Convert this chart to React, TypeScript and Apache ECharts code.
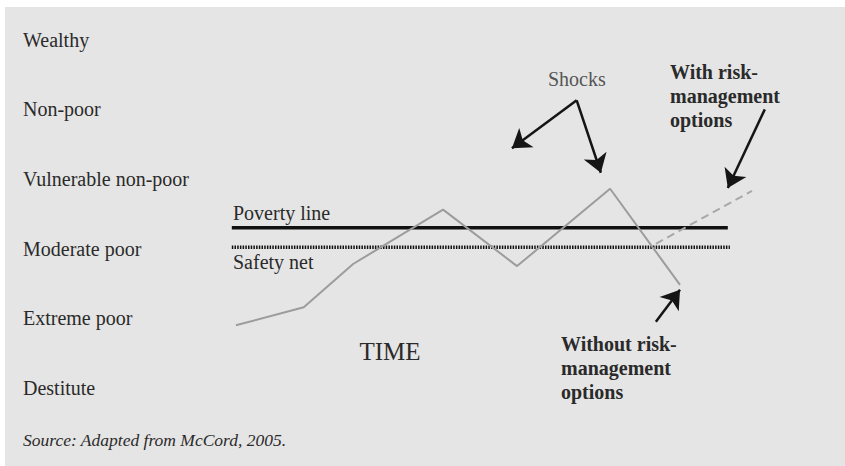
import React, { useEffect, useRef } from "react";
import * as echarts from "echarts";

// Welfare levels, bottom (0) to top (5)
const levels = ["Destitute", "Extreme poor", "Moderate poor", "Vulnerable non-poor", "Non-poor", "Wealthy"];
const levelValues = [0, 1, 2, 3, 4, 5];

// Household welfare path over time (time units, welfare level)
const pathTime = [0, 1.32, 2.28, 4.03, 5.47, 7.28, 8.64];
const pathLevel = [0.9, 1.16, 1.78, 2.56, 1.75, 2.86, 1.48];

// Path with risk-management options (dashed)
const riskTime = [8.17, 10.04];
const riskLevel = [2.07, 2.83];

// Reference lines
const povertyLine = { from: -0.08, to: 9.57, level: 2.3 };
const safetyNet = { from: -0.08, to: 9.61, level: 2.02 };

// Annotation arrows: [fromTime, fromLevel, toTime, toLevel]
const arrows = [
  [6.63, 4.13, 5.37, 3.44],
  [6.63, 4.13, 7.1, 3.09],
  [10.29, 4.0, 9.57, 2.87],
  [8.17, 0.95, 8.64, 1.41],
];

const serif = '"Liberation Serif", "DejaVu Serif", serif';

export default function App() {
  const ref = useRef<HTMLDivElement>(null);
  useEffect(() => {
    if (!ref.current) return;
    const chart = echarts.init(ref.current, null, { renderer: "svg" });
    const labelText = (text: string, x: number, y: number, size: number, extra: any = {}) => ({
      type: "text",
      x,
      y,
      z: 10,
      style: {
        text,
        fontFamily: serif,
        fontSize: size,
        fontWeight: extra.weight || "normal",
        fontStyle: extra.italic ? "italic" : "normal",
        fill: extra.fill || "#2a2a2a",
        textAlign: extra.align || "left",
        textVerticalAlign: extra.valign || "middle",
        lineHeight: extra.lineHeight,
      },
    });
    chart.setOption({
      animation: false,
      backgroundColor: "#ffffff",
      grid: { left: 0, right: 0, top: 0, bottom: 0, outerBoundsMode: "none", containLabel: false },
      xAxis: { type: "value", min: -4.59, max: 11.85, show: false },
      yAxis: {
        type: "value",
        min: -1.12,
        max: 5.57,
        axisLine: { show: false },
        axisTick: { show: false },
        splitLine: { show: false },
        axisLabel: {
          show: true,
          inside: true,
          margin: 23,
          customValues: levelValues,
          formatter: (v: number) => levels[Math.round(v)] ?? "",
          fontFamily: serif,
          fontSize: 20,
          color: "#2a2a2a",
          align: "left",
        },
      },
      graphic: [
        { type: "rect", z: -10, shape: { x: 5, y: 7, width: 840, height: 459 }, style: { fill: "#e5e5e5" } },
        labelText("Shocks", 548, 79, 20, { fill: "#555555" }),
        labelText("With risk-\nmanagement\noptions", 670, 60, 20, { weight: "bold", valign: "top", lineHeight: 24 }),
        labelText("Without risk-\nmanagement\noptions", 561, 332, 20, { weight: "bold", valign: "top", lineHeight: 24 }),
        labelText("Poverty line", 233, 213, 20),
        labelText("Safety net", 233, 262, 20),
        labelText("TIME", 390, 351, 25, { align: "center" }),
        labelText("Source: Adapted from McCord, 2005.", 23, 440, 17.5, { italic: true }),
      ],
      series: [
        {
          type: "line",
          data: [
            [povertyLine.from, povertyLine.level],
            [povertyLine.to, povertyLine.level],
          ],
          symbol: "none",
          lineStyle: { color: "#111111", width: 3.5 },
          z: 3,
        },
        {
          type: "line",
          data: [
            [safetyNet.from, safetyNet.level],
            [safetyNet.to, safetyNet.level],
          ],
          symbol: "none",
          lineStyle: { color: "#111111", width: 3.5, type: [1.5, 1.2] },
          z: 3,
        },
        {
          type: "line",
          data: pathTime.map((t, i) => [t, pathLevel[i]]),
          symbol: "none",
          lineStyle: { color: "#9c9c9c", width: 2 },
          z: 4,
        },
        {
          type: "line",
          data: riskTime.map((t, i) => [t, riskLevel[i]]),
          symbol: "none",
          lineStyle: { color: "#a8a8a8", width: 2, type: [8, 5] },
          z: 4,
        },
        {
          type: "lines",
          coordinateSystem: "cartesian2d",
          symbol: ["none", "arrow"],
          symbolSize: [10, 18],
          lineStyle: { color: "#151515", width: 2.5, opacity: 1, curveness: 0 },
          data: arrows.map((a) => ({ coords: [[a[0], a[1]], [a[2], a[3]]] })),
          z: 5,
        },
      ],
    });
    return () => chart.dispose();
  }, []);
  return (
    <div
      ref={ref}
      style={{ position: "fixed", left: 0, top: 0, width: 845, height: 466 }}
    />
  );
}
